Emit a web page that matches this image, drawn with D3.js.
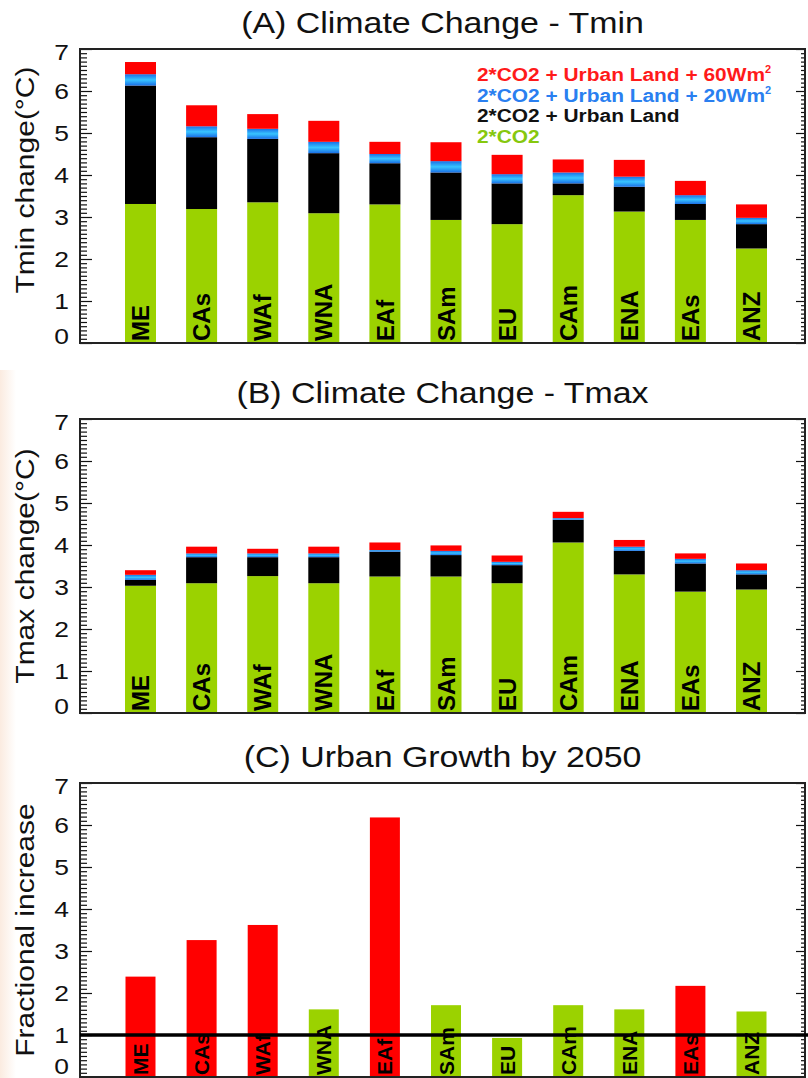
<!DOCTYPE html>
<html><head><meta charset="utf-8">
<script src="https://cdn.jsdelivr.net/npm/d3@7"></script>
<style>body{margin:0;background:#fff}svg{display:block}text{font-family:"Liberation Sans",Arial,sans-serif}</style>
</head><body><svg id="c" width="808" height="1078"></svg>
<script>
// ---------------- data ----------------
const regions = ["ME","CAs","WAf","WNA","EAf","SAm","EU","CAm","ENA","EAs","ANZ"];
const tminCO2   = [3.31,3.19,3.35,3.09,3.30,2.93,2.83,3.52,3.13,2.93,2.25];
const tminUrban = [6.13,4.90,4.86,4.52,4.28,4.06,3.80,3.80,3.72,3.31,2.83];
const tmin20    = [6.40,5.16,5.10,4.79,4.50,4.33,4.02,4.06,3.96,3.52,2.98];
const tmin60    = [6.69,5.66,5.45,5.29,4.79,4.78,4.48,4.37,4.36,3.86,3.30];
const tmaxCO2   = [3.03,3.09,3.26,3.09,3.25,3.25,3.09,4.06,3.30,2.89,2.94];
const tmaxUrban = [3.17,3.71,3.71,3.71,3.84,3.76,3.52,4.60,3.86,3.56,3.30];
const tmax20    = [3.29,3.80,3.80,3.80,3.88,3.86,3.60,4.64,3.96,3.67,3.40];
const tmax60    = [3.40,3.96,3.91,3.96,4.06,3.99,3.75,4.79,4.12,3.80,3.56];
const urbanGrowth = [2.39,3.26,3.62,1.61,6.18,1.71,0.93,1.71,1.61,2.17,1.56];
const yTickValues = [0,1,2,3,4,5,6,7];
const legendLabels = ["2*CO2 + Urban Land + 60Wm","2*CO2 + Urban Land + 20Wm","2*CO2 + Urban Land","2*CO2"];
const growthThreshold = 2;   // bars above this are red
const referenceLine = 1;

// ---------------- layout ----------------
const svg = d3.select("#c");
const left = 80, right = 805;
const green = "#9bd200", red = "#ff0000", black = "#000000";

const defs = svg.append("defs");
const bg = defs.append("linearGradient").attr("id","blueGrad").attr("x1",0).attr("y1",0).attr("x2",0).attr("y2",1);
bg.append("stop").attr("offset","0%").attr("stop-color","#1a6fe6");
bg.append("stop").attr("offset","50%").attr("stop-color","#38c4ff");
bg.append("stop").attr("offset","100%").attr("stop-color","#1a6fe6");
const pg = defs.append("linearGradient").attr("id","pinkGrad").attr("x1",0).attr("y1",0).attr("x2",1).attr("y2",0);
pg.append("stop").attr("offset","0%").attr("stop-color","#fbebe0");
pg.append("stop").attr("offset","100%").attr("stop-color","#ffffff");
svg.append("rect").attr("x",0).attr("y",370).attr("width",16).attr("height",708).attr("fill","url(#pinkGrad)");

const x = d3.scalePoint().domain(regions).range([140.5, 751.5]);
const barW = 31;

function panel(top, bottom, title, ylabel, ylabelY) {
  const y = d3.scaleLinear().domain([0,7]).range([bottom, top]);
  const g = svg.append("g");
  g.append("text").attr("transform",`translate(${(left+right)/2},${top-16}) scale(1.17,1)`)
    .attr("text-anchor","middle").attr("font-size",29).attr("fill","#111").text(title);
  g.append("text").attr("transform",`translate(34,${ylabelY}) rotate(-90) scale(1.2,1)`)
    .attr("text-anchor","middle").attr("font-size",25).attr("fill","#111").text(ylabel);
  return {g, y, top, bottom};
}

function frame(p, zeroOffset) {
  const {g, y, top, bottom} = p;
  const minor = d3.range(0, 70.5, 1).filter(v => v % 10 !== 0).map(v => v/10);
  const ax = g.append("g").attr("transform",`translate(${left},0)`);
  ax.call(d3.axisLeft(y).tickValues(minor).tickSize(-7).tickFormat(""));
  const axM = g.append("g").attr("transform",`translate(${left},0)`);
  axM.call(d3.axisLeft(y).tickValues(yTickValues).tickSize(-12).tickPadding(8).tickFormat(d3.format("d")));
  const ar = g.append("g").attr("transform",`translate(${right},0)`);
  ar.call(d3.axisRight(y).tickValues(minor).tickSize(-4).tickFormat(""));
  const arM = g.append("g").attr("transform",`translate(${right},0)`);
  arM.call(d3.axisRight(y).tickValues(yTickValues).tickSize(-9).tickFormat(""));
  [ax, axM, ar, arM].forEach(a => {
    a.select(".domain").remove();
    a.selectAll(".tick line").attr("stroke","#111").attr("stroke-width",1.2);
  });
  axM.selectAll(".tick text").attr("font-size",22).attr("fill","#111")
     .attr("font-family","Liberation Sans, Arial, sans-serif")
     .attr("transform", function(d){
        const xx = +d3.select(this).attr("x");
        const off = d === 0 ? zeroOffset : (d === 7 ? 3 : 0);
        return `translate(${xx*0.2},${off}) scale(1.2,1)`; });
  g.append("rect").attr("x",left).attr("y",top).attr("width",right-left).attr("height",bottom-top)
    .attr("fill","none").attr("stroke","#222").attr("stroke-width",2);
}

function labels(p, size) {
  p.g.append("g").selectAll("text").data(regions).join("text")
    .attr("transform", d => `translate(${x(d)},${p.bottom-2}) rotate(-90)`)
    .attr("dy","0.36em").attr("font-size",size).attr("font-weight","bold").attr("fill","#000").text(d => d);
}

function stacked(p, layers) {
  const fills = [green, black, "url(#blueGrad)", red];
  const gg = p.g.append("g");
  layers.forEach((arr, li) => {
    gg.append("g").selectAll("rect").data(regions).join("rect")
      .attr("x", d => x(d) - barW/2).attr("width", barW)
      .attr("y", (d,i) => p.y(arr[i]))
      .attr("height", (d,i) => p.y(li ? layers[li-1][i] : 0) - p.y(arr[i]))
      .attr("fill", fills[li]);
  });
}

// Panel A
const pA = panel(49, 343, "(A) Climate Change - Tmin", "Tmin change(°C)", 180);
stacked(pA, [tminCO2, tminUrban, tmin20, tmin60]);
labels(pA, 24);
frame(pA, -7);
// legend
const legendColors = ["#ff1a1a","#2a7ff0","#111","#86c80e"];
legendLabels.forEach((lab, i) => {
  const t = pA.g.append("text").attr("transform",`translate(477,${81 + i*20.5}) scale(1.1,1)`)
    .attr("font-size",19).attr("font-weight","bold").attr("fill",legendColors[i]).text(lab);
  if (i < 2) t.append("tspan").attr("font-size",10).attr("dy",-8).text("2");
});

// Panel B
const pB = panel(419, 713, "(B) Climate Change - Tmax", "Tmax change(°C)", 566);
stacked(pB, [tmaxCO2, tmaxUrban, tmax20, tmax60]);
labels(pB, 24);
frame(pB, -7);

// Panel C
const pC = panel(783, 1077, "(C) Urban Growth by 2050", "Fractional increase", 930);
pC.g.append("g").selectAll("rect").data(regions).join("rect")
  .attr("x", d => x(d) - 15).attr("width", 30)
  .attr("y", (d,i) => pC.y(urbanGrowth[i]))
  .attr("height", (d,i) => pC.y(0) - pC.y(urbanGrowth[i]))
  .attr("fill", (d,i) => urbanGrowth[i] > growthThreshold ? red : green);
labels(pC, 21);
frame(pC, -11);
pC.g.append("line").attr("x1",left).attr("x2",right+3)
  .attr("y1",pC.y(referenceLine)).attr("y2",pC.y(referenceLine))
  .attr("stroke","#000").attr("stroke-width",3.5);
</script></body></html>
